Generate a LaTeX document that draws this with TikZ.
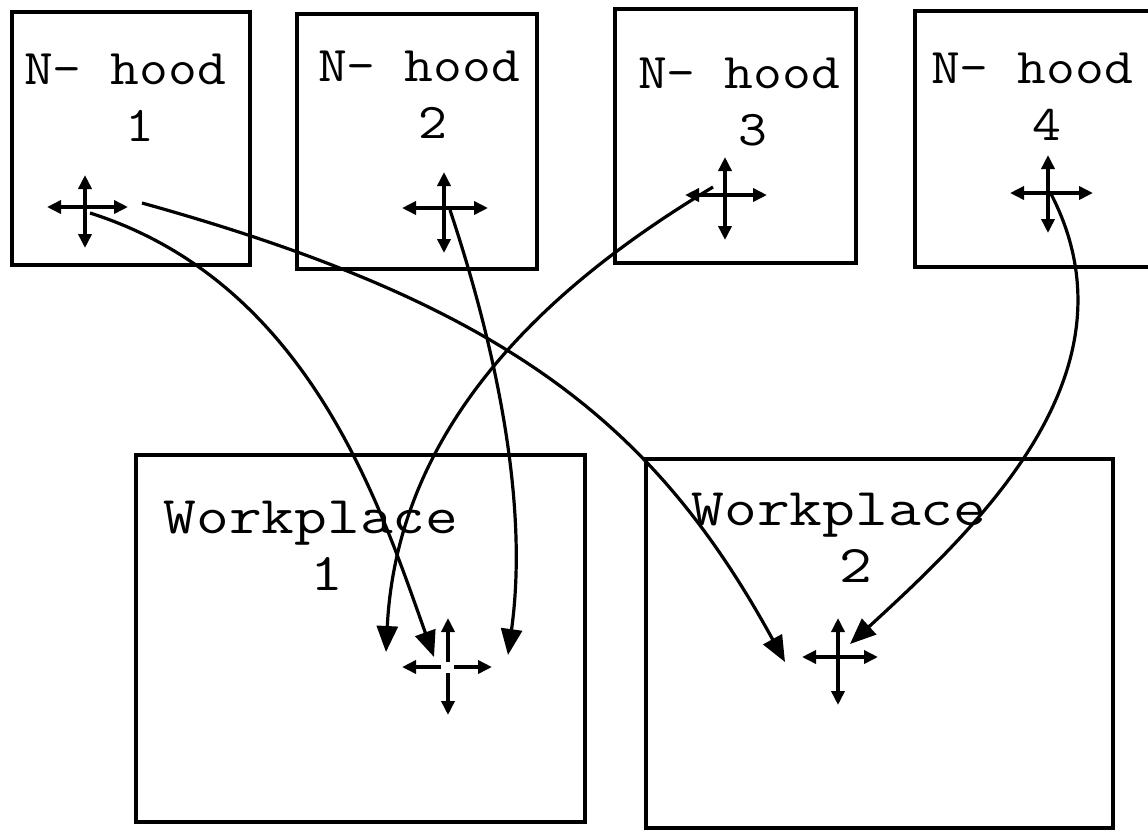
\documentclass[tikz,border=0pt]{standalone}
\usepackage{fontspec}
\newfontfamily\nfont[FakeStretch=1.12]{Latin Modern Mono}
\newfontfamily\wfont[FakeStretch=1.2]{Latin Modern Mono}
\usetikzlibrary{arrows.meta}
\tikzset{
  box/.style={draw=black, line width=4pt, inner sep=0pt, outer sep=0pt},
  nlbl/.style={anchor=base, inner sep=0pt, font=\nfont\fontsize{50}{57}\selectfont},
  wlbl/.style={anchor=base, inner sep=0pt, font=\wfont\fontsize{53}{57}\selectfont},
  flow/.style={line width=3.2pt, -{Triangle[length=26pt,width=21pt]}},
  arm/.style={line width=3.5pt, -{Triangle[length=14pt,width=13pt]}},
  dbl/.style={line width=3.5pt, {Triangle[length=14pt,width=13pt]}-{Triangle[length=14pt,width=13pt]}},
}
\newcommand\mvcross[5]{%
  \draw[dbl, shift={(#1)}] (-#2,0) -- (#3,0);
  \draw[dbl, shift={(#1)}] (0,-#4) -- (0,#5);
}
\begin{document}
\begin{tikzpicture}[x=1pt, y=-1pt]
\useasboundingbox (0,0) rectangle (1148,831);
\fill[white] (0,0) rectangle (1148,831);

% boxes
\node[box, minimum width=238pt, minimum height=253pt] (nh1) at (131,138.5) {};
\node[box, minimum width=240pt, minimum height=255pt] (nh2) at (417,141.5) {};
\node[box, minimum width=241pt, minimum height=254pt] (nh3) at (735.5,136) {};
\node[box, minimum width=245pt, minimum height=256pt] (nh4) at (1037.5,139) {};
\node[box, minimum width=449pt, minimum height=367pt] (wp1) at (360.5,638.5) {};
\node[box, minimum width=467pt, minimum height=369pt] (wp2) at (879.5,643.5) {};

% labels
\node[nlbl] (t1a) at (125,84) {N- hood};
\node[nlbl] (t1b) at (140,141) {1};
\node[nlbl] (t2a) at (419,81) {N- hood};
\node[nlbl] (t2b) at (433,138) {2};
\node[nlbl] (t3a) at (739,88) {N- hood};
\node[nlbl] (t3b) at (753,145) {3};
\node[nlbl] (t4a) at (1032,83) {N- hood};
\node[nlbl] (t4b) at (1047,140) {4};
\node[wlbl] (t5a) at (311,533) {Workplace};
\node[wlbl] (t5b) at (327,590) {1};
\node[wlbl] (t6a) at (839,525) {Workplace};
\node[wlbl] (t6b) at (856,582) {2};

% cross centres
\coordinate (c1) at (85,207);
\coordinate (c2) at (444,208);
\coordinate (c3) at (725,195);
\coordinate (c4) at (1048,193);
\coordinate (w1) at (448,667);
\coordinate (w2) at (838,657);

% move crosses
\mvcross{c1}{38}{43}{32}{41}
\mvcross{c2}{42}{44}{36}{45}
\mvcross{c3}{40}{42}{38}{45}
\mvcross{c4}{38}{45}{38}{40}
\mvcross{w2}{36}{40}{39}{48}
\draw[arm, shift={(w1)}] (-7,0) -- (-46,0);
\draw[arm, shift={(w1)}] (6,0) -- (44,0);
\draw[arm, shift={(w1)}] (0,-5) -- (0,-49);
\draw[arm, shift={(w1)}] (0,6) -- (0,48);

% connector end points
\coordinate (s1) at (90,213);   \coordinate (e1) at (434,657);
\coordinate (s2) at (142,203);  \coordinate (e2) at (785,662);
\coordinate (s3) at (450,210);  \coordinate (e3) at (508,655);
\coordinate (s4) at (713,187);  \coordinate (e4) at (386,652);
\coordinate (s5) at (1050,192); \coordinate (e5) at (850,644);

% connectors
\draw[flow] (s1) .. controls (309,282.5) and (380.2,506.3) .. (e1);
\draw[flow] (s2) .. controls (508,304.8) and (655.4,425.2) .. (e2);
\draw[flow] (s3) .. controls (497.4,352.4) and (528.7,506.5) .. (e3);
\draw[flow] (s4) .. controls (584.6,264.4) and (398.5,402) .. (e4);
\draw[flow] (s5) .. controls (1143.2,369) and (982.8,522.5) .. (e5);
\end{tikzpicture}
\end{document}
